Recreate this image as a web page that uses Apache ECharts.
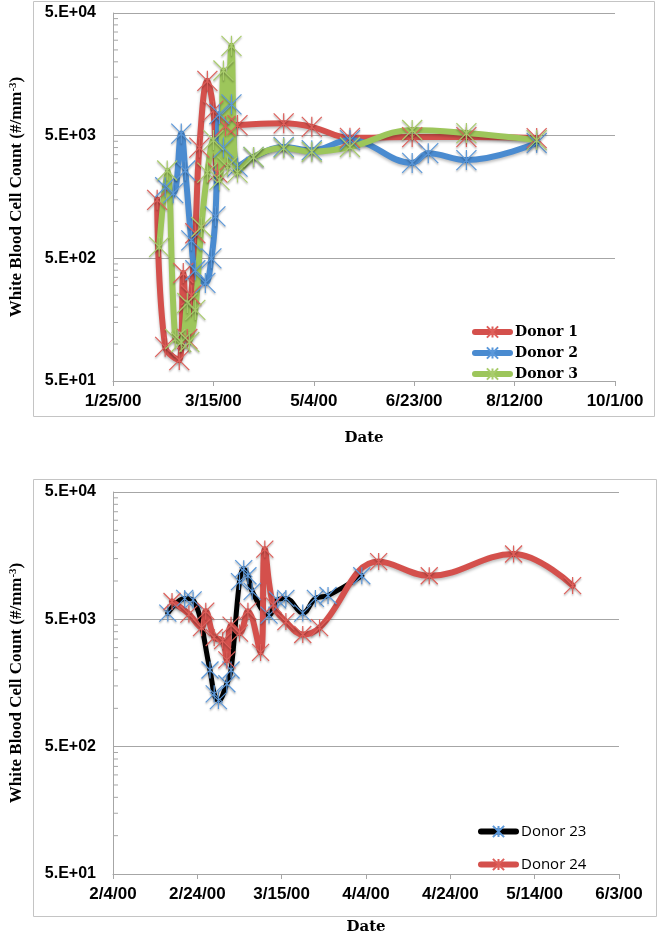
<!DOCTYPE html>
<html><head><meta charset="utf-8">
<script src="https://cdn.jsdelivr.net/npm/echarts@6/dist/echarts.min.js"></script>
<style>html,body{margin:0;padding:0;background:#fff}#c{width:660px;height:936px}</style>
</head><body><div id="c"></div>
<script>
// ---- tick labels ----
const topTicks = ['1/25/00','3/15/00','5/4/00','6/23/00','8/12/00','10/1/00'];
const botTicks = ['2/4/00','2/24/00','3/15/00','4/4/00','4/24/00','5/14/00','6/3/00'];
const yTicks = ['5.E+01','5.E+02','5.E+03','5.E+04'];
const yMinorValues = [100,150,200,250,300,350,400,450,1000,1500,2000,2500,3000,3500,4000,4500,10000,15000,20000,25000,30000,35000,40000,45000];

// ---- top chart series ----
const d1Dates  = ['2/16/00','2/20/00','2/27/00','2/29/00','3/2/00','3/4/00','3/6/00','3/8/00','3/12/00','3/15/00','3/17/00','3/21/00','3/27/00','4/19/00','5/3/00','5/22/00','6/22/00','7/19/00','8/23/00'];
const d1Values = [1500, 95, 74, 380, 110, 250, 800, 4000, 14000, 8000, 2500, 6000, 6100, 6300, 5900, 4800, 4870, 4870, 4780];

const d2Dates  = ['2/20/00','2/24/00','2/28/00','3/1/00','3/4/00','3/6/00','3/11/00','3/14/00','3/16/00','3/18/00','3/20/00','3/24/00','3/27/00','4/4/00','4/19/00','5/3/00','5/22/00','6/22/00','6/30/00','7/19/00','8/23/00'];
const d2Values = [1900, 1700, 5200, 2600, 700, 400, 315, 500, 1100, 7500, 4000, 9000, 2800, 3350, 4040, 3800, 4600, 3000, 3600, 3160, 4350];

const d3Dates  = ['2/17/00','2/21/00','2/25/00','2/28/00','3/2/00','3/3/00','3/6/00','3/9/00','3/12/00','3/15/00','3/18/00','3/20/00','3/22/00','3/24/00','3/27/00','4/4/00','4/19/00','5/3/00','5/22/00','6/22/00','7/19/00','8/23/00'];
const d3Values = [620, 2600, 110, 104, 216, 104, 190, 900, 2500, 4600, 2170, 17000, 2800, 27000, 2500, 3350, 3960, 3700, 4040, 5560, 5250, 4600];

// ---- bottom chart series ----
const d23Dates  = ['2/17/00','2/21/00','2/23/00','2/27/00','2/28/00','2/29/00','3/2/00','3/3/00','3/5/00','3/6/00','3/7/00','3/8/00','3/12/00','3/14/00','3/16/00','3/20/00','3/23/00','3/26/00','4/3/00'];
const d23Values = [5600, 7300, 7100, 2000, 1300, 1150, 1560, 2000, 9900, 12500, 11000, 8300, 5400, 7100, 7300, 5600, 7300, 7700, 11000];

const d24Dates  = ['2/18/00','2/22/00','2/25/00','2/26/00','2/28/00','3/1/00','3/2/00','3/3/00','3/5/00','3/7/00','3/10/00','3/11/00','3/13/00','3/16/00','3/20/00','3/24/00','4/7/00','4/19/00','5/9/00','5/23/00'];
const d24Values = [6900, 5500, 4300, 5800, 3600, 3400, 2400, 4500, 3900, 5800, 2750, 17800, 6500, 4800, 3800, 4300, 14200, 11000, 16300, 9200];

// ---- helpers ----
function toMs(s){ const p = s.split('/').map(Number); return Date.UTC(2000 + p[2], p[0]-1, p[1]); }
function pairs(ds, vs){ return ds.map((d,i)=>[toMs(d), vs[i]]); }
const STAR = 'path://M0,0L20,20M20,0L0,20M10,0L10,20';

const tMin = toMs(topTicks[0]), tInt = toMs(topTicks[1]) - tMin, tMax = toMs(topTicks[topTicks.length-1]);
const bMin = toMs(botTicks[0]), bInt = toMs(botTicks[1]) - bMin, bMax = toMs(botTicks[botTicks.length-1]);

const AX = '#a6a6a6';
const xLabelFont = {fontFamily:'Liberation Sans', fontWeight:'bold', fontSize:17, color:'#000'};
const yLabelFont = {fontFamily:'Liberation Sans', fontWeight:'bold', fontSize:16, color:'#000'};
const serifBold = {fontFamily:'DejaVu Serif', fontWeight:'bold', fontSize:15, color:'#000'};
const titleFont = {fontFamily:'Liberation Serif', fontWeight:'bold', fontSize:17, color:'#000'};

function xAxisCfg(grid, min, max, intv, ticks, gap){
  return {
    type:'value', gridIndex:grid, min:min, max:max, interval:intv,
    axisLine:{show:true, lineStyle:{color:AX, width:1}},
    axisTick:{show:true, length:5, lineStyle:{color:AX}},
    splitLine:{show:false},
    axisLabel:Object.assign({margin:12, showMinLabel:true, showMaxLabel:true,
      formatter:v=>{ const i = Math.round((v-min)/intv); return ticks[i] || ''; }}, xLabelFont),
    name:'Date', nameLocation:'middle', nameGap:gap, nameTextStyle:serifBold
  };
}
function yAxisCfg(grid){
  return {
    type:'log', gridIndex:grid, logBase:10, min:50, max:50000, interval:1,
    axisLine:{show:true, lineStyle:{color:AX, width:1}},
    axisTick:{show:false},
    splitLine:{show:true, lineStyle:{color:AX, width:1}},
    axisLabel:Object.assign({margin:17, showMinLabel:true, showMaxLabel:true,
      formatter:v=>{ const i = Math.round(Math.log10(v/50)); return yTicks[i] || ''; }}, yLabelFont),
    name:'White Blood Cell Count (#/mm{sup|-3})', nameLocation:'middle', nameGap:87,
    nameTextStyle:Object.assign({rich:{sup:{fontFamily:'Liberation Serif', fontWeight:'bold', fontSize:11, verticalAlign:'top', padding:[0,0,7,0]}}}, titleFont)
  };
}
function lineSeries(name, grid, ds, vs, lineColor, markColor, lw, ss){
  return {
    name:name, type:'line', xAxisIndex:grid, yAxisIndex:grid, data:pairs(ds, vs),
    smooth:0.4, symbol:STAR, symbolSize:ss, showAllSymbol:true,
    lineStyle:{color:lineColor, width:lw, cap:'round', join:'round', shadowColor:'rgba(0,0,0,0.25)', shadowBlur:3, shadowOffsetY:2},
    itemStyle:{color:markColor, borderColor:markColor, borderWidth:1.2, shadowColor:'rgba(0,0,0,0.35)', shadowBlur:2, shadowOffsetY:1.5},
    emphasis:{disabled:true}, animation:false, clip:false
  };
}
function minorTicks(grid, xmin){
  return {
    type:'custom', xAxisIndex:grid, yAxisIndex:grid, silent:true, clip:false, animation:false,
    data:yMinorValues.map(v=>[xmin, v]),
    renderItem:(p, api)=>{ const c = api.coord([api.value(0), api.value(1)]);
      return {type:'line', shape:{x1:c[0], y1:c[1], x2:c[0]+5, y2:c[1]}, style:{stroke:AX, lineWidth:1}}; }
  };
}

const chart = echarts.init(document.getElementById('c'), null, {renderer:'canvas'});
chart.setOption({
  backgroundColor:'#fff', animation:false,
  grid:[
    {left:105, top:13, width:510, height:368},
    {left:105, top:492, width:514, height:388}
  ],
  xAxis:[ xAxisCfg(0, tMin, tMax, tInt, topTicks, 50), xAxisCfg(1, bMin, bMax, bInt, botTicks, 46) ],
  yAxis:[ yAxisCfg(0), yAxisCfg(1) ],
  legend:[
    {data:['Donor 1','Donor 2','Donor 3'], orient:'vertical', left:467, top:320, itemWidth:35, itemHeight:14, itemGap:7,
     lineStyle:{width:6, cap:'round'}, itemStyle:{shadowBlur:0, shadowOffsetY:0},
     textStyle:Object.assign({lineHeight:14}, serifBold, {fontSize:14}), selectedMode:false},
    {data:['Donor 23','Donor 24'], orient:'vertical', left:473, top:819, itemWidth:35, itemHeight:14, itemGap:18,
     lineStyle:{width:6, cap:'round'}, itemStyle:{shadowBlur:0, shadowOffsetY:0},
     textStyle:{fontFamily:'Open Sans', fontSize:15, color:'#000', lineHeight:14}, selectedMode:false}
  ],
  graphic:[
    {type:'rect', shape:{x:33.5, y:1.5, width:621, height:415}, style:{fill:'none', stroke:'#c4c4c4', lineWidth:1}, silent:true, z:-1},
    {type:'rect', shape:{x:33.5, y:479.5, width:623, height:437}, style:{fill:'none', stroke:'#c4c4c4', lineWidth:1}, silent:true, z:-1}
  ],
  series:[
    minorTicks(0, tMin), minorTicks(1, bMin),
    lineSeries('Donor 1', 0, d1Dates, d1Values, '#d4504c', '#de5f5a', 6, 20),
    lineSeries('Donor 2', 0, d2Dates, d2Values, '#4a8bd0', '#5b98da', 6, 20),
    lineSeries('Donor 3', 0, d3Dates, d3Values, '#9dc65b', '#a9cc6c', 6, 20),
    lineSeries('Donor 23', 1, d23Dates, d23Values, '#000000', '#5b98da', 5, 17),
    lineSeries('Donor 24', 1, d24Dates, d24Values, '#d4504c', '#de5f5a', 6, 17)
  ]
});
</script></body></html>
